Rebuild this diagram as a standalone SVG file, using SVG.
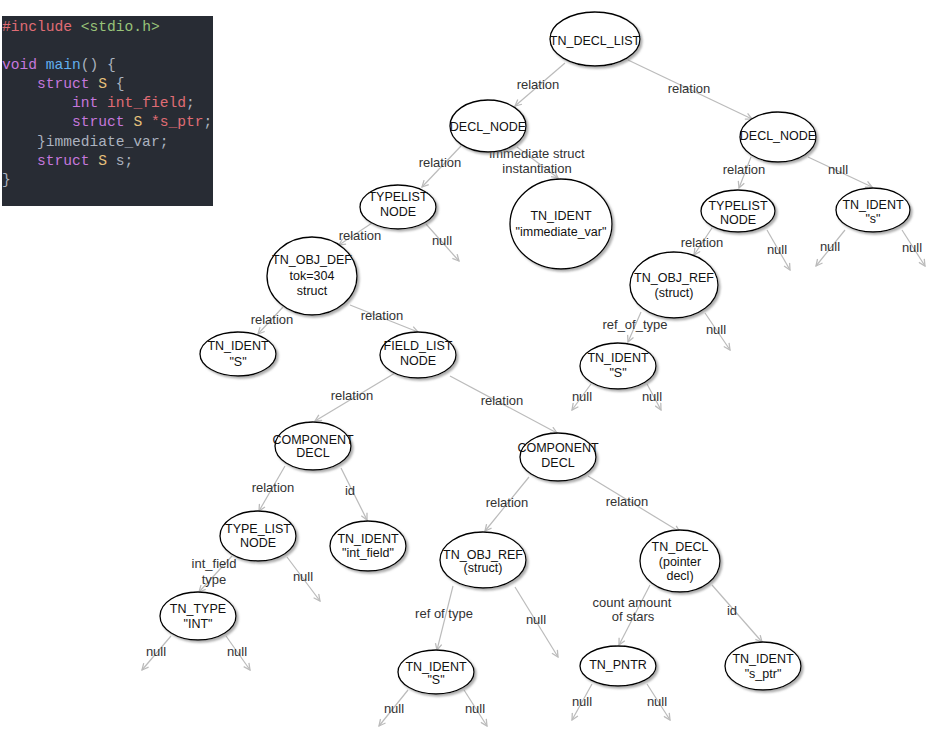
<svg xmlns="http://www.w3.org/2000/svg" width="933" height="737" viewBox="0 0 933 737">
<style>
.n ellipse{fill:#fff;stroke:#000;stroke-width:1.3;filter:url(#sh)}
.n text{font-family:"Liberation Sans",Arial,sans-serif;font-size:12.5px;fill:#111;text-anchor:middle}
.e line{stroke:#bbb;stroke-width:1.2;marker-end:url(#arr)}
.e text{font-family:"Liberation Sans",Arial,sans-serif;font-size:13px;fill:#333;text-anchor:middle}
.code{font-family:"Liberation Mono","DejaVu Sans Mono",monospace;font-size:14.6px;fill:#abb2bf}
.r{fill:#e06c75}.g{fill:#98c379}.p{fill:#c678dd}.b{fill:#61afef}.y{fill:#e5c07b}
</style>
<defs>
<filter id="sh" x="-20%" y="-20%" width="150%" height="150%">
<feDropShadow dx="2" dy="2" stdDeviation="1" flood-color="#777" flood-opacity="0.6"/>
</filter>
<marker id="arr" viewBox="0 0 10 10" refX="9" refY="5" markerWidth="8" markerHeight="8" markerUnits="userSpaceOnUse" orient="auto">
<path d="M1,1 L9,5 L1,9" fill="none" stroke="#bbb" stroke-width="1.6"/>
</marker>
</defs>
<rect width="933" height="737" fill="#fff"/>
<g id="code">
<rect x="2" y="16" width="211" height="190" fill="#282c34"/>
<text class="code" xml:space="preserve"><tspan x="2" y="31"><tspan class="r">#include</tspan> <tspan class="g">&lt;stdio.h&gt;</tspan></tspan><tspan x="2" y="69"><tspan class="p">void</tspan> <tspan class="b">main</tspan>() {</tspan><tspan x="2" y="88">    <tspan class="p">struct</tspan> <tspan class="y">S</tspan> {</tspan><tspan x="2" y="107">        <tspan class="p">int</tspan> <tspan class="r">int_field</tspan>;</tspan><tspan x="2" y="126">        <tspan class="p">struct</tspan> <tspan class="y">S</tspan> <tspan class="r">*s_ptr</tspan>;</tspan><tspan x="2" y="146">    }immediate_var;</tspan><tspan x="2" y="165">    <tspan class="p">struct</tspan> <tspan class="y">S</tspan> s;</tspan><tspan x="2" y="184">}</tspan></text>
</g>
<g id="edges" class="e">
<line x1="565" y1="63" x2="515" y2="106"/><text x="538" y="89">relation</text>
<line x1="628" y1="60" x2="752" y2="119"/><text x="689" y="93">relation</text>
<line x1="461" y1="146" x2="422" y2="187"/><text x="440" y="167">relation</text>
<line x1="517" y1="147" x2="558" y2="178"/><text x="537" y="158">immediate struct</text><text x="537" y="173">instantiation</text>
<line x1="751" y1="157" x2="739" y2="188"/><text x="744" y="174">relation</text>
<line x1="808" y1="157" x2="872" y2="187"/><text x="838" y="174">null</text>
<line x1="712" y1="228" x2="694" y2="255"/><text x="702" y="247">relation</text>
<line x1="767" y1="230" x2="790" y2="270"/><text x="777" y="254">null</text>
<line x1="845" y1="230" x2="816" y2="266"/><text x="830" y="251">null</text>
<line x1="902" y1="230" x2="925" y2="266"/><text x="912" y="252">null</text>
<line x1="372" y1="223" x2="339" y2="245"/><text x="360" y="240">relation</text>
<line x1="426" y1="224" x2="459" y2="261"/><text x="442" y="245">null</text>
<line x1="283" y1="307" x2="258" y2="334"/><text x="272" y="324">relation</text>
<line x1="350" y1="305" x2="418" y2="332"/><text x="382" y="320">relation</text>
<line x1="395" y1="373" x2="315" y2="421"/><text x="352" y="400">relation</text>
<line x1="450" y1="376" x2="557" y2="433"/><text x="502" y="405">relation</text>
<line x1="285" y1="466" x2="259" y2="511"/><text x="273" y="492">relation</text>
<line x1="341" y1="468" x2="367" y2="520"/><text x="350" y="495">id</text>
<line x1="232" y1="556" x2="199" y2="592"/><text x="214" y="568">int_field</text><text x="214" y="584">type</text>
<line x1="287" y1="557" x2="320" y2="601"/><text x="303" y="581">null</text>
<line x1="171" y1="636" x2="142" y2="670"/><text x="156" y="656">null</text>
<line x1="226" y1="636" x2="250" y2="670"/><text x="237" y="656">null</text>
<line x1="529" y1="477" x2="485" y2="531"/><text x="507" y="507">relation</text>
<line x1="588" y1="476" x2="680" y2="532"/><text x="627" y="506">relation</text>
<line x1="453" y1="586" x2="437" y2="650"/><text x="444" y="618">ref of type</text>
<line x1="515" y1="587" x2="558" y2="657"/><text x="536" y="624">null</text>
<line x1="408" y1="690" x2="379" y2="726"/><text x="394" y="713">null</text>
<line x1="464" y1="690" x2="487" y2="726"/><text x="475" y="713">null</text>
<line x1="650" y1="585" x2="619" y2="645"/><text x="632" y="607">count amount</text><text x="633" y="621">of stars</text>
<line x1="712" y1="585" x2="762" y2="642"/><text x="732" y="615">id</text>
<line x1="592" y1="684" x2="572" y2="720"/><text x="582" y="706">null</text>
<line x1="647" y1="684" x2="670" y2="720"/><text x="657" y="706">null</text>
<line x1="641" y1="312" x2="628" y2="342"/><text x="635" y="329">ref_of_type</text>
<line x1="705" y1="313" x2="730" y2="350"/><text x="716" y="334">null</text>
<line x1="591" y1="384" x2="572" y2="410"/><text x="582" y="401">null</text>
<line x1="647" y1="384" x2="661" y2="410"/><text x="652" y="401">null</text>
</g>
<g id="n1" class="n"><ellipse cx="595" cy="39" rx="45" ry="27"/><text x="595" y="45">TN_DECL_LIST</text></g>
<g id="n2" class="n"><ellipse cx="488" cy="126" rx="38" ry="26"/><text x="488" y="131">DECL_NODE</text></g>
<g id="n3" class="n"><ellipse cx="778" cy="137" rx="38" ry="25"/><text x="778" y="140">DECL_NODE</text></g>
<g id="n4" class="n"><ellipse cx="738" cy="211" rx="37" ry="21"/><text x="738" y="210">TYPELIST</text><text x="738" y="224">NODE</text></g>
<g id="n5" class="n"><ellipse cx="873" cy="210" rx="37" ry="22"/><text x="873" y="209">TN_IDENT</text><text x="873" y="223">"s"</text></g>
<g id="n6" class="n"><ellipse cx="398" cy="207" rx="38" ry="22"/><text x="398" y="201">TYPELIST</text><text x="398" y="216">NODE</text></g>
<g id="n7" class="n"><ellipse cx="312" cy="276" rx="45" ry="39"/><text x="312" y="264">TN_OBJ_DEF</text><text x="312" y="280">tok=304</text><text x="312" y="295">struct</text></g>
<g id="n8" class="n"><ellipse cx="238" cy="354" rx="38" ry="22"/><text x="238" y="350">TN_IDENT</text><text x="238" y="366">"S"</text></g>
<g id="n9" class="n"><ellipse cx="418" cy="355" rx="38" ry="23"/><text x="418" y="350">FIELD_LIST</text><text x="418" y="365">NODE</text></g>
<g id="n10" class="n"><ellipse cx="561" cy="224" rx="51" ry="45"/><text x="561" y="220">TN_IDENT</text><text x="561" y="236">"immediate_var"</text></g>
<g id="n11" class="n"><ellipse cx="674" cy="285" rx="44" ry="33"/><text x="674" y="282">TN_OBJ_REF</text><text x="674" y="297">(struct)</text></g>
<g id="n12" class="n"><ellipse cx="618" cy="366" rx="38" ry="23"/><text x="618" y="362">TN_IDENT</text><text x="618" y="377">"S"</text></g>
<g id="n13" class="n"><ellipse cx="313" cy="446" rx="38" ry="24"/><text x="313" y="444">COMPONENT</text><text x="313" y="457">DECL</text></g>
<g id="n14" class="n"><ellipse cx="258" cy="536" rx="38" ry="25"/><text x="258" y="533">TYPE_LIST</text><text x="258" y="547">NODE</text></g>
<g id="n15" class="n"><ellipse cx="368" cy="546" rx="38" ry="25"/><text x="368" y="543">TN_IDENT</text><text x="368" y="557">"int_field"</text></g>
<g id="n16" class="n"><ellipse cx="198" cy="616" rx="38" ry="24"/><text x="198" y="613">TN_TYPE</text><text x="198" y="628">"INT"</text></g>
<g id="n17" class="n"><ellipse cx="558" cy="457" rx="38" ry="24"/><text x="558" y="452">COMPONENT</text><text x="558" y="467">DECL</text></g>
<g id="n18" class="n"><ellipse cx="483" cy="560" rx="43" ry="28"/><text x="483" y="559">TN_OBJ_REF</text><text x="483" y="572">(struct)</text></g>
<g id="n19" class="n"><ellipse cx="436" cy="672" rx="38" ry="22"/><text x="436" y="671">TN_IDENT</text><text x="436" y="684">"S"</text></g>
<g id="n20" class="n"><ellipse cx="618" cy="666" rx="38" ry="20"/><text x="618" y="669">TN_PNTR</text></g>
<g id="n21" class="n"><ellipse cx="680" cy="561" rx="40" ry="31"/><text x="680" y="551">TN_DECL</text><text x="680" y="566">(pointer</text><text x="680" y="580">decl)</text></g>
<g id="n22" class="n"><ellipse cx="763" cy="666" rx="38" ry="24"/><text x="763" y="663">TN_IDENT</text><text x="763" y="678">"s_ptr"</text></g>
</svg>
